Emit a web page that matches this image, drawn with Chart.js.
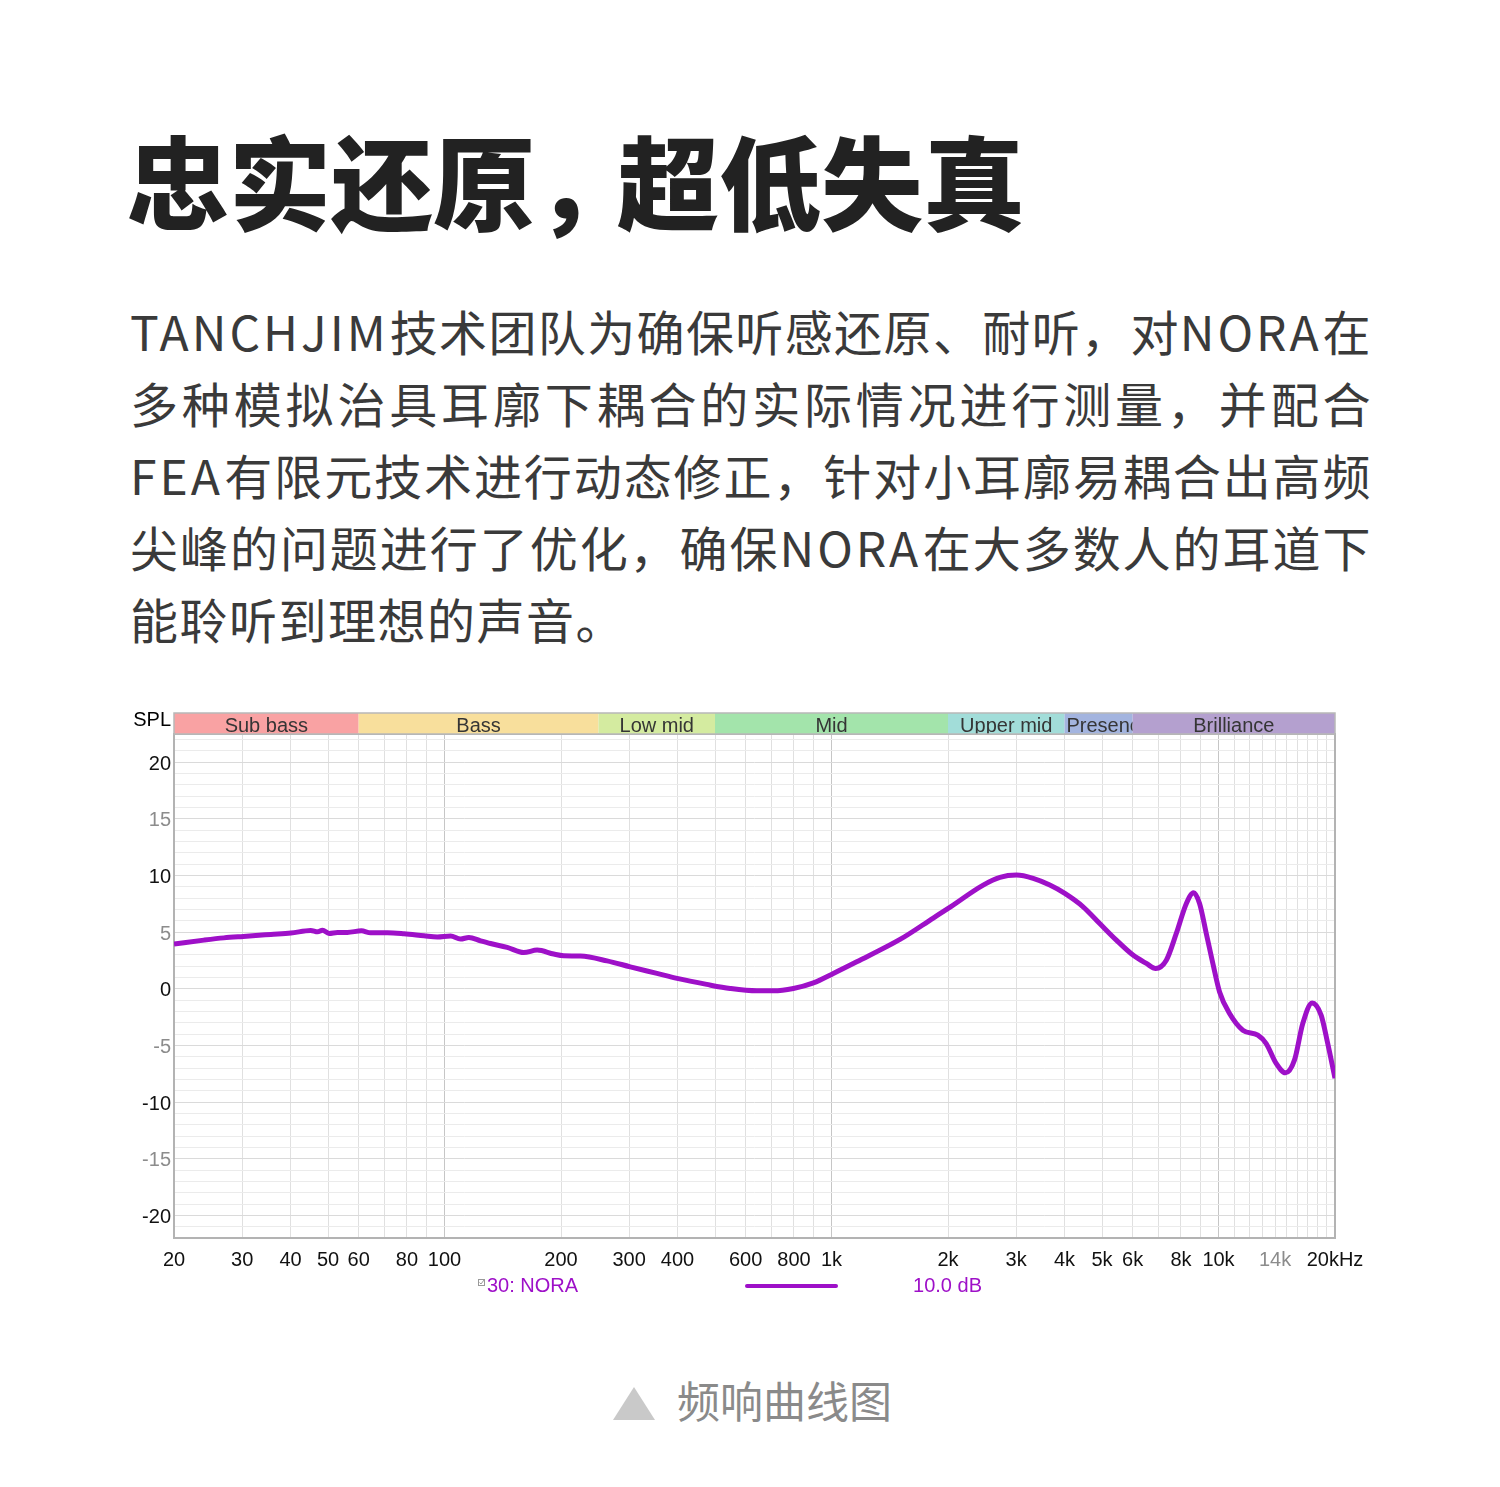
<!DOCTYPE html>
<html><head><meta charset="utf-8">
<script src="https://cdn.jsdelivr.net/npm/chart.js@4.4.1/dist/chart.umd.min.js"></script>
<style>
html,body{margin:0;padding:0;background:#fff;}
body{width:1500px;height:1487px;position:relative;overflow:hidden;font-family:"Noto Sans CJK SC","Noto Sans",sans-serif;}
#title{position:absolute;left:127px;top:128px;font-size:102px;line-height:102px;font-weight:900;color:#222;white-space:nowrap;}
#title .cm{letter-spacing:-20px;}
.para{position:absolute;left:130px;width:1241px;font-size:48px;line-height:72px;color:#3a3a3a;letter-spacing:0.5px;text-align:justify;text-align-last:justify;white-space:nowrap;}
.para .lt{letter-spacing:3px;}
.para.last{text-align:left;text-align-last:left;letter-spacing:1.5px;}
#chartBox{position:absolute;left:100px;top:690px;width:1300px;height:620px;}
#tri{position:absolute;left:613px;top:1387px;width:0;height:0;border-left:21px solid transparent;border-right:21px solid transparent;border-bottom:33px solid #c9c9c9;}
#cap{position:absolute;left:677px;top:1378px;font-size:43px;line-height:43px;color:#8a8a8a;white-space:nowrap;}
</style></head>
<body>
<div id="title">忠实还原<span class="cm">，</span>超低失真</div>
<div class="para" style="top:294px"><span class="lt">TANCHJIM</span>技术团队为确保听感还原、耐听，对<span class="lt">NORA</span>在</div>
<div class="para" style="top:366px">多种模拟治具耳廓下耦合的实际情况进行测量，并配合</div>
<div class="para" style="top:438px"><span class="lt">FEA</span>有限元技术进行动态修正，针对小耳廓易耦合出高频</div>
<div class="para" style="top:510px">尖峰的问题进行了优化，确保<span class="lt">NORA</span>在大多数人的耳道下</div>
<div class="para last" style="top:582px">能聆听到理想的声音。</div>
<div id="chartBox"><canvas id="c" width="1300" height="620"></canvas></div>
<div id="tri"></div>
<div id="cap">频响曲线图</div>
<script>
// ---- data ----
const freqHz = [20, 23.9, 26.9, 30.2, 35.6, 40.1, 45.1, 47.0, 48.4, 50.3, 52.9, 56.1, 61.0, 64.4, 71.2, 78.6, 88.5, 95.8, 103.7, 110, 115.6, 123.9, 131.5, 145.2, 160.2, 173.6, 191.5, 203.2, 224.4, 263, 302, 354, 399, 476, 547, 641, 708, 797, 898, 1011, 1162, 1503, 1832, 2002, 2466, 2724, 3007, 3320, 3665, 4008, 4468, 4932, 5446, 6012, 6512, 6882, 7331, 7780, 8260, 8624, 8934, 9298, 9670, 10064, 10680, 11558, 12636, 13282, 14094, 14894, 15712, 16510, 17456, 18414, 19154, 20000];
const splDb = [3.95, 4.3, 4.5, 4.63, 4.8, 4.92, 5.16, 5.03, 5.18, 4.89, 4.98, 4.98, 5.12, 4.95, 4.95, 4.86, 4.68, 4.57, 4.66, 4.39, 4.54, 4.24, 4.0, 3.66, 3.2, 3.42, 3.07, 2.92, 2.89, 2.47, 1.94, 1.36, 0.92, 0.39, 0.03, -0.18, -0.18, 0.03, 0.53, 1.36, 2.39, 4.36, 6.25, 7.1, 9.16, 9.84, 10.04, 9.75, 9.16, 8.42, 7.24, 5.77, 4.3, 2.98, 2.24, 1.8, 2.53, 4.89, 7.54, 8.48, 7.54, 4.89, 2.24, -0.27, -2.18, -3.65, -4.09, -4.83, -6.59, -7.42, -6.3, -3.06, -1.24, -2.32, -4.83, -7.9];
const seriesName = '30: NORA';
const scaleNote = '10.0 dB';
const xTickValues = [20, 30, 40, 50, 60, 80, 100, 200, 300, 400, 600, 800, 1000, 2000, 3000, 4000, 5000, 6000, 8000, 10000, 14000, 20000];
const xTickText = ['20', '30', '40', '50', '60', '80', '100', '200', '300', '400', '600', '800', '1k', '2k', '3k', '4k', '5k', '6k', '8k', '10k', '14k', '20kHz'];
const yTickValues = [20, 15, 10, 5, 0, -5, -10, -15, -20];
const bandNames = ['Sub bass', 'Bass', 'Low mid', 'Mid', 'Upper mid', 'Presence', 'Brilliance'];
const bandEdges = [20, 60, 250, 500, 2000, 4000, 6000, 20000];

// ---- styles ----
const bandColors = ['#f9a2a3', '#f8df9c', '#d4eba0', '#a3e4ab', '#a2ddd9', '#a3b4df', '#b4a0cf'];
const lineColor = '#9e10c8';
const FONT = '"Liberation Sans", Arial, sans-serif';

const gridFreqs = [];
for (const d of [10, 100, 1000]) for (let m = 1; m <= 9; m++) { const v = d * m; if (v >= 20) gridFreqs.push(v); }
for (let m = 10; m <= 20; m++) gridFreqs.push(m * 1000);
const gridDb = [];
for (let v = -22; v <= 22; v++) gridDb.push(v);

Chart.defaults.font.family = FONT;
Chart.defaults.font.size = 20;

const framePlugin = {
  id: 'frame',
  beforeDatasetsDraw(chart) {
    const { ctx, chartArea: a } = chart;
    ctx.save();
    ctx.strokeStyle = '#b3b3b3';
    ctx.lineWidth = 2;
    ctx.strokeRect(a.left, a.top, a.right - a.left, a.bottom - a.top);
    ctx.restore();
  },
  afterDraw(chart) {
    const { ctx, chartArea: a, scales: { x } } = chart;
    const h = 21, top = a.top - h;
    ctx.save();
    ctx.font = '20px ' + FONT;
    bandNames.forEach((n, i) => {
      const x0 = x.getPixelForValue(bandEdges[i]);
      const x1 = x.getPixelForValue(bandEdges[i + 1]);
      ctx.fillStyle = bandColors[i];
      ctx.fillRect(x0, top, x1 - x0, h);
      ctx.save();
      ctx.beginPath(); ctx.rect(x0, top, x1 - x0, h); ctx.clip();
      ctx.fillStyle = '#353535';
      ctx.textBaseline = 'alphabetic';
      ctx.textAlign = 'left';
      const w = ctx.measureText(n).width;
      const tx = Math.max(x0 + 2, (x0 + x1) / 2 - w / 2);
      ctx.fillText(n, tx, a.top - 2);
      ctx.restore();
    });
    ctx.strokeStyle = '#b8b8b8';
    ctx.lineWidth = 1.5;
    ctx.strokeRect(a.left, top, a.right - a.left, h);
    // SPL label
    ctx.fillStyle = '#000';
    ctx.textAlign = 'right';
    ctx.textBaseline = 'alphabetic';
    ctx.fillText('SPL', a.left - 3, a.top - 8);
    // legend row
    const ly = a.bottom + 48;
    ctx.strokeStyle = '#999'; ctx.lineWidth = 1;
    ctx.strokeRect(378.5, ly - 6.5, 6, 6);
    ctx.beginPath(); ctx.moveTo(379.5, ly - 3.5); ctx.lineTo(381, ly - 2); ctx.lineTo(384, ly - 6); ctx.stroke();
    ctx.fillStyle = lineColor;
    ctx.textAlign = 'left';
    ctx.fillText(seriesName, 387, ly + 6);
    ctx.strokeStyle = lineColor; ctx.lineWidth = 4; ctx.lineCap = 'round';
    ctx.beginPath(); ctx.moveTo(647, ly); ctx.lineTo(736, ly); ctx.stroke();
    ctx.textAlign = 'center';
    ctx.fillText(scaleNote, 847.5, ly + 6);
    ctx.restore();
  }
};

new Chart(document.getElementById('c'), {
  type: 'line',
  data: {
    datasets: [{
      label: seriesName,
      data: freqHz.map((f, i) => ({ x: f, y: splDb[i] })),
      borderColor: lineColor,
      borderWidth: 5,
      pointRadius: 0,
      cubicInterpolationMode: 'monotone',
      fill: false
    }]
  },
  options: {
    responsive: false,
    devicePixelRatio: 1,
    animation: false,
    layout: { padding: { left: 20, top: 44, right: 65, bottom: 32 } },
    plugins: { legend: { display: false }, tooltip: { enabled: false } },
    scales: {
      x: {
        type: 'logarithmic',
        min: 20, max: 20000,
        bounds: 'data',
        afterBuildTicks(scale) { scale.ticks = gridFreqs.map(v => ({ value: v })); },
        afterFit(scale) { scale.height = 40; },
        border: { display: false },
        grid: {
          drawTicks: false,
          lineWidth: 1,
          color: c => ([100, 1000, 10000].includes(c.tick && c.tick.value) ? '#c6c6c6' : '#e0e0e0')
        },
        ticks: {
          autoSkip: false, maxRotation: 0, minRotation: 0, padding: 10,
          font: { size: 20 },
          color: c => (c.tick && c.tick.value === 14000 ? '#8c8c8c' : '#111'),
          callback: v => { const i = xTickValues.indexOf(v); return i >= 0 ? xTickText[i] : ''; }
        }
      },
      y: {
        type: 'linear',
        min: -22, max: 22.5,
        afterBuildTicks(scale) { scale.ticks = gridDb.map(v => ({ value: v })); },
        afterFit(scale) { scale.width = 54; },
        border: { display: false },
        grid: {
          drawTicks: false,
          lineWidth: 1,
          color: c => (c.tick && c.tick.value % 5 === 0 ? '#dadada' : '#ebebeb')
        },
        ticks: {
          autoSkip: false, padding: 3, labelOffset: 2,
          font: { size: 20 },
          color: c => (c.tick && c.tick.value % 10 === 0 ? '#111' : '#8c8c8c'),
          callback: v => (yTickValues.includes(v) ? String(v) : '')
        }
      }
    }
  },
  plugins: [framePlugin]
});
</script>
</body></html>
